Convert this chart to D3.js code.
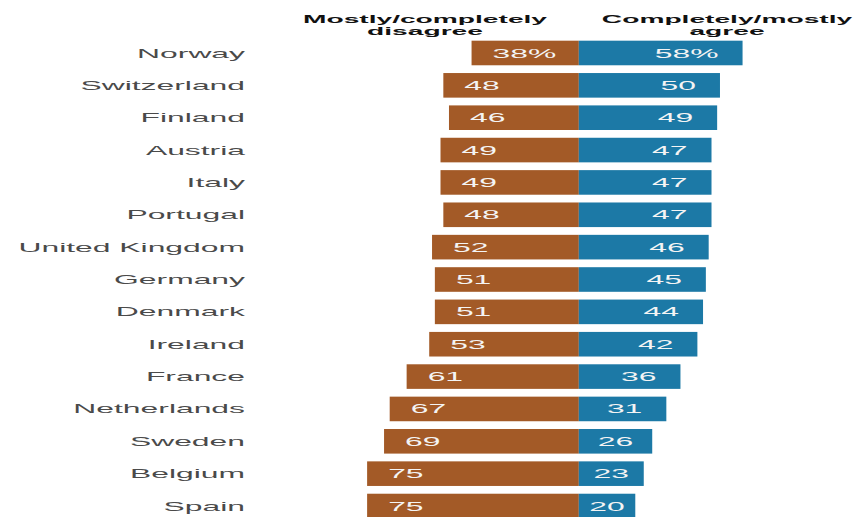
<!DOCTYPE html>
<html>
<head>
<meta charset="utf-8">
<script src="https://cdn.jsdelivr.net/npm/d3@7"></script>
<style>
  body { margin: 0; background: #fff; }
  text { font-family: "Liberation Sans", Arial, sans-serif; }
</style>
</head>
<body>
<div id="chart"></div>
<script>
const countries = ["Norway", "Switzerland", "Finland", "Austria", "Italy", "Portugal",
  "United Kingdom", "Germany", "Denmark", "Ireland", "France", "Netherlands",
  "Sweden", "Belgium", "Spain"];
const disagree = [38, 48, 46, 49, 49, 48, 52, 51, 51, 53, 61, 67, 69, 75, 75];
const agree = [58, 50, 49, 47, 47, 47, 46, 45, 44, 42, 36, 31, 26, 23, 20];
const headers = [["Mostly/completely", "disagree"], ["Completely/mostly", "agree"]];

const w = 859, h = 517;
const brown = "#a35a27", blue = "#1c79a6";
const sx = 2.45;    // text is stretched wide in the reference
const numSx = 2.45;

const svg = d3.select("#chart").append("svg").attr("width", w).attr("height", h);

// scales
const x = d3.scaleLinear().domain([-80, 60]).range([353, 748.2]);
const y = d3.scaleBand().domain(countries).range([36.8, 522.2])
  .paddingInner(0.24).paddingOuter(0.12);

const rows = countries.map((c, i) => ({ c: c, d: disagree[i], a: agree[i], i: i }));

// bars
svg.selectAll("rect.dis").data(rows).enter().append("rect")
  .attr("class", "dis")
  .attr("x", d => x(-d.d)).attr("y", d => y(d.c))
  .attr("width", d => x(0) - x(-d.d)).attr("height", y.bandwidth())
  .attr("fill", brown);

svg.selectAll("rect.agr").data(rows).enter().append("rect")
  .attr("class", "agr")
  .attr("x", x(0)).attr("y", d => y(d.c))
  .attr("width", d => x(d.a) - x(0)).attr("height", y.bandwidth())
  .attr("fill", blue);

// country names
svg.selectAll("text.cty").data(rows).enter().append("text")
  .attr("class", "cty")
  .attr("transform", d => "translate(245," + (y(d.c) + y.bandwidth() / 2) + ") scale(" + sx + ",1)")
  .attr("text-anchor", "end").attr("dy", "0.35em")
  .attr("font-size", 13).attr("fill", "#4a4a4a")
  .text(d => d.c);

// value labels inside bars
function valueLabel(cls, val, side) {
  svg.selectAll("text." + cls).data(rows).enter().append("text")
    .attr("class", cls)
    .attr("text-anchor", "middle").attr("dy", "0.35em")
    .attr("font-size", 13).attr("fill", "#f4f4f4")
    .text(d => d.i === 0 ? val(d) + "%" : val(d))
    .each(function (d) {
      const tw = this.getComputedTextLength() * numSx;
      const cy = y(d.c) + y.bandwidth() / 2;
      let cx;
      if (side < 0) {
        const left = x(-val(d));
        cx = Math.min((left + x(0)) / 2, left + 21 + tw / 2);
      } else {
        const right = x(val(d));
        cx = Math.max((right + x(0)) / 2, right - 24 - tw / 2);
      }
      d3.select(this).attr("transform", "translate(" + cx + "," + cy + ") scale(" + numSx + ",1)");
    });
}
valueLabel("dv", d => d.d, -1);
valueLabel("av", d => d.a, 1);

// column headers
const hx = [425, 727];
headers.forEach((lines, k) => {
  lines.forEach((t, j) => {
    svg.append("text")
      .attr("transform", "translate(" + hx[k] + "," + (23 + j * 12) + ") scale(2.45,1)")
      .attr("text-anchor", "middle")
      .attr("font-size", 11.5).attr("font-weight", "bold").attr("fill", "#111")
      .text(t);
  });
});
</script>
</body>
</html>
